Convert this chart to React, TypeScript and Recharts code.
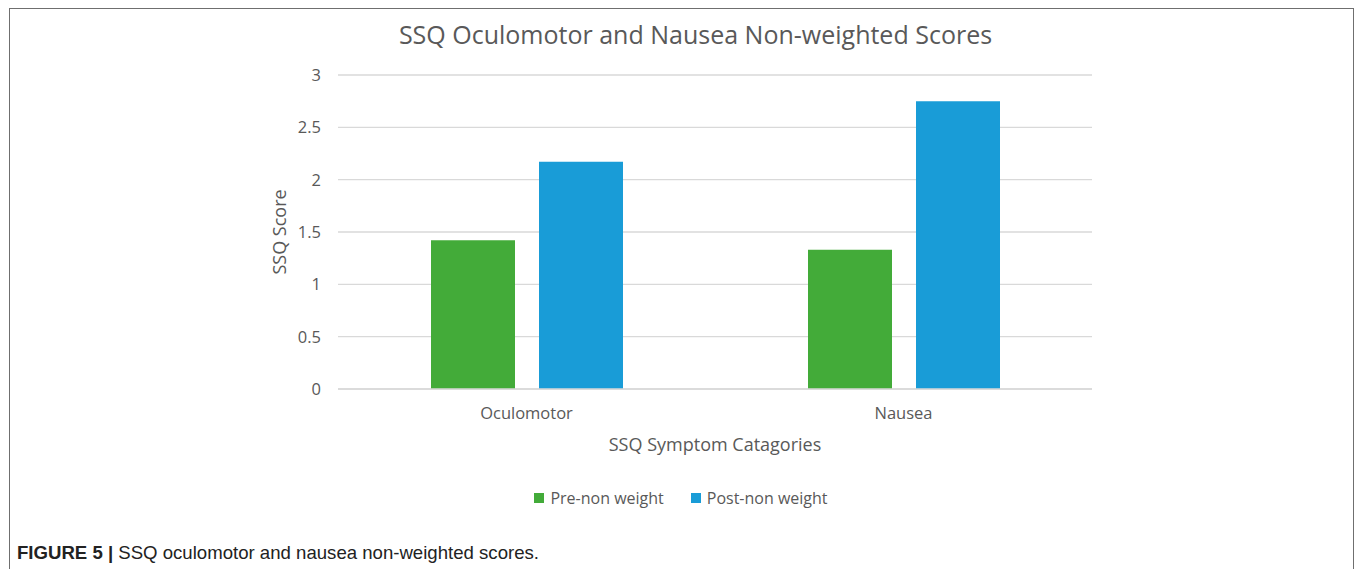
import React from "react";
import { BarChart, Bar, XAxis, YAxis, CartesianGrid, Label } from "recharts";

const categories = ["Oculomotor", "Nausea"];
const preNonWeight = [1.42, 1.33];
const postNonWeight = [2.17, 2.75];
const yTicks = [0, 0.5, 1, 1.5, 2, 2.5, 3];
const seriesNames = ["Pre-non weight", "Post-non weight"];

const data = categories.map((c, i) => ({
  name: c,
  pre: preNonWeight[i],
  post: postNonWeight[i],
}));

const GREEN = "#43AB39";
const BLUE = "#199CD7";
const seriesColors = [GREEN, BLUE];
const TEXT = "#595959";
const FONT = "'Open Sans', sans-serif";

export default function App() {
  return (
    <div style={{ position: "absolute", left: 0, top: 0, width: 1355, height: 569, background: "#fff", overflow: "hidden" }}>
      <div
        style={{
          position: "absolute",
          left: 9,
          top: 8,
          width: 1345,
          height: 600,
          borderLeft: "1px solid #6f6f6f",
          borderTop: "1px solid #6f6f6f",
          borderRight: "1px solid #6f6f6f",
          boxSizing: "border-box",
        }}
      />
      <div
        style={{
          position: "absolute",
          left: 0,
          width: 1391,
          top: 17,
          textAlign: "center",
          fontFamily: FONT,
          fontSize: 25,
          color: TEXT,
          whiteSpace: "nowrap",
        }}
      >
        SSQ Oculomotor and Nausea Non-weighted Scores
      </div>
      <div style={{ position: "absolute", left: 0, top: 0 }}>
        <BarChart
          width={1355}
          height={569}
          data={data}
          margin={{ top: 75, right: 263, bottom: 60, left: 238 }}
          barSize={84}
          barGap={24}
        >
          <CartesianGrid vertical={false} stroke="#D9D9D9" strokeWidth={1.3} />
          <XAxis
            dataKey="name"
            axisLine={{ stroke: "#D9D9D9", strokeWidth: 1.3 }}
            tickLine={false}
            tickSize={0}
            tickMargin={18}
            tick={{ fill: TEXT, fontSize: 16.5, fontFamily: FONT }}
            height={120}
          >
            <Label value="SSQ Symptom Catagories" position="insideTop" offset={49} fill={TEXT} fontSize={18} fontFamily={FONT} />
          </XAxis>
          <YAxis
            domain={[0, 3]}
            ticks={yTicks}
            axisLine={false}
            tickLine={false}
            tickSize={0}
            tickMargin={17}
            width={100}
            tick={{ fill: TEXT, fontSize: 16.5, fontFamily: FONT }}
          >
            <Label value="SSQ Score" angle={-90} position="insideLeft" offset={42} fill={TEXT} fontSize={18} fontFamily={FONT} style={{ textAnchor: "middle" }} />
          </YAxis>
          <Bar dataKey="pre" name={seriesNames[0]} fill={GREEN} isAnimationActive={false} />
          <Bar dataKey="post" name={seriesNames[1]} fill={BLUE} isAnimationActive={false} />
        </BarChart>
      </div>
      <div
        style={{
          position: "absolute",
          left: 0,
          width: 1362,
          top: 487,
          display: "flex",
          justifyContent: "center",
          fontFamily: FONT,
          fontSize: 16,
          color: TEXT,
        }}
      >
        {seriesNames.map((n, i) => (
          <div key={n} style={{ display: "flex", alignItems: "center", marginLeft: i === 0 ? 0 : 27 }}>
            <span style={{ width: 10, height: 10, background: seriesColors[i], display: "inline-block", marginRight: 6 }} />
            <span>{n}</span>
          </div>
        ))}
      </div>
      <div
        style={{
          position: "absolute",
          left: 17,
          top: 542,
          fontFamily: "'Liberation Sans', Arial, sans-serif",
          fontSize: 18.6,
          color: "#222",
          whiteSpace: "nowrap",
        }}
      >
        <b>FIGURE 5 |</b> SSQ oculomotor and nausea non-weighted scores.
      </div>
    </div>
  );
}
